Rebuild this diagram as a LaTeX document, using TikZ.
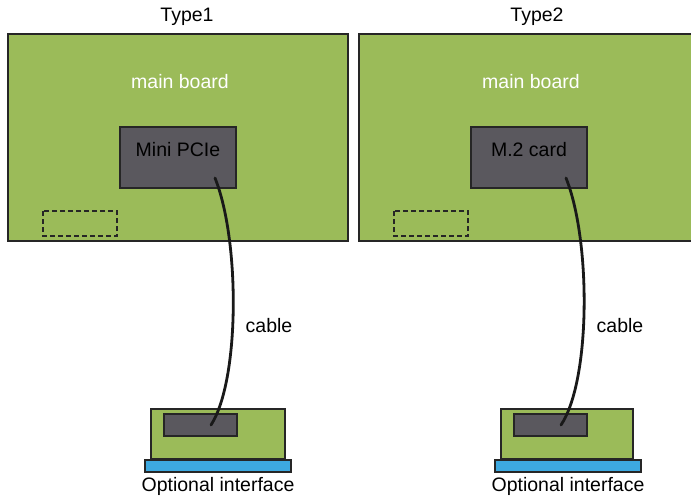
\documentclass[tikz,border=0pt]{standalone}
\usepackage{fontspec}
\setmainfont{Liberation Sans}
\usetikzlibrary{positioning}
\definecolor{boardGreen}{HTML}{9BBB59}
\definecolor{cardGrey}{HTML}{5A585E}
\definecolor{portBlue}{HTML}{3DA9E0}

\begin{document}
\begin{tikzpicture}[x=1pt, y=-1pt,
  board/.style={draw=black!85, line width=1.4pt, fill=boardGreen},
  card/.style={draw=black!85, line width=1.2pt, fill=cardGrey},
  slot/.style={draw=black!85, line width=1.2pt, dashed, dash pattern=on 5pt off 3pt},
  port/.style={draw=black!85, line width=1.2pt, fill=portBlue},
  lbl/.style={font=\fontsize{19.5}{22}\selectfont, inner sep=0pt},
  cablewire/.style={draw=black!90, line width=2.8pt, line cap=round}
]
\useasboundingbox (0,0) rectangle (691,496);
% Type1
\node[lbl] (t1) at (187,17) {Type1};
\draw[board] (8,34) rectangle (348,241);
\node[lbl, text=white] (mb1) at (180,82) {main board};
\draw[card] (120,127) rectangle (236,188);
\node[lbl] (mpcie) at (178,150) {Mini PCIe};
\draw[slot] (43,211) rectangle (117,236);
\draw[board] (151,409) rectangle (285,459);
\draw[card] (164,414) rectangle (237,436);
\draw[port] (145,460) rectangle (291,472);
\node[lbl] (opt1) at (218,486) {Optional interface};
\coordinate (c1a) at (215,178);
\coordinate (c1b) at (211,425);
\draw[cablewire] (c1a) .. controls (240,240) and (240,380) .. (c1b);
\node[lbl] (cab1) at (269,326) {cable};
% Type2
\node[lbl] (t2) at (537,17) {Type2};
\draw[board] (359,34) rectangle (702,241);
\node[lbl, text=white] (mb2) at (531,82) {main board};
\draw[card] (471,127) rectangle (587,188);
\node[lbl] (m2) at (529,150) {M.2 card};
\draw[slot] (394,211) rectangle (468,236);
\draw[board] (501,409) rectangle (633,459);
\draw[card] (514,414) rectangle (587,436);
\draw[port] (495,460) rectangle (641,472);
\node[lbl] (opt2) at (568,486) {Optional interface};
\coordinate (c2a) at (566,178);
\coordinate (c2b) at (561,425);
\draw[cablewire] (c2a) .. controls (591,240) and (591,380) .. (c2b);
\node[lbl] (cab2) at (620,326) {cable};
\end{tikzpicture}
\end{document}
